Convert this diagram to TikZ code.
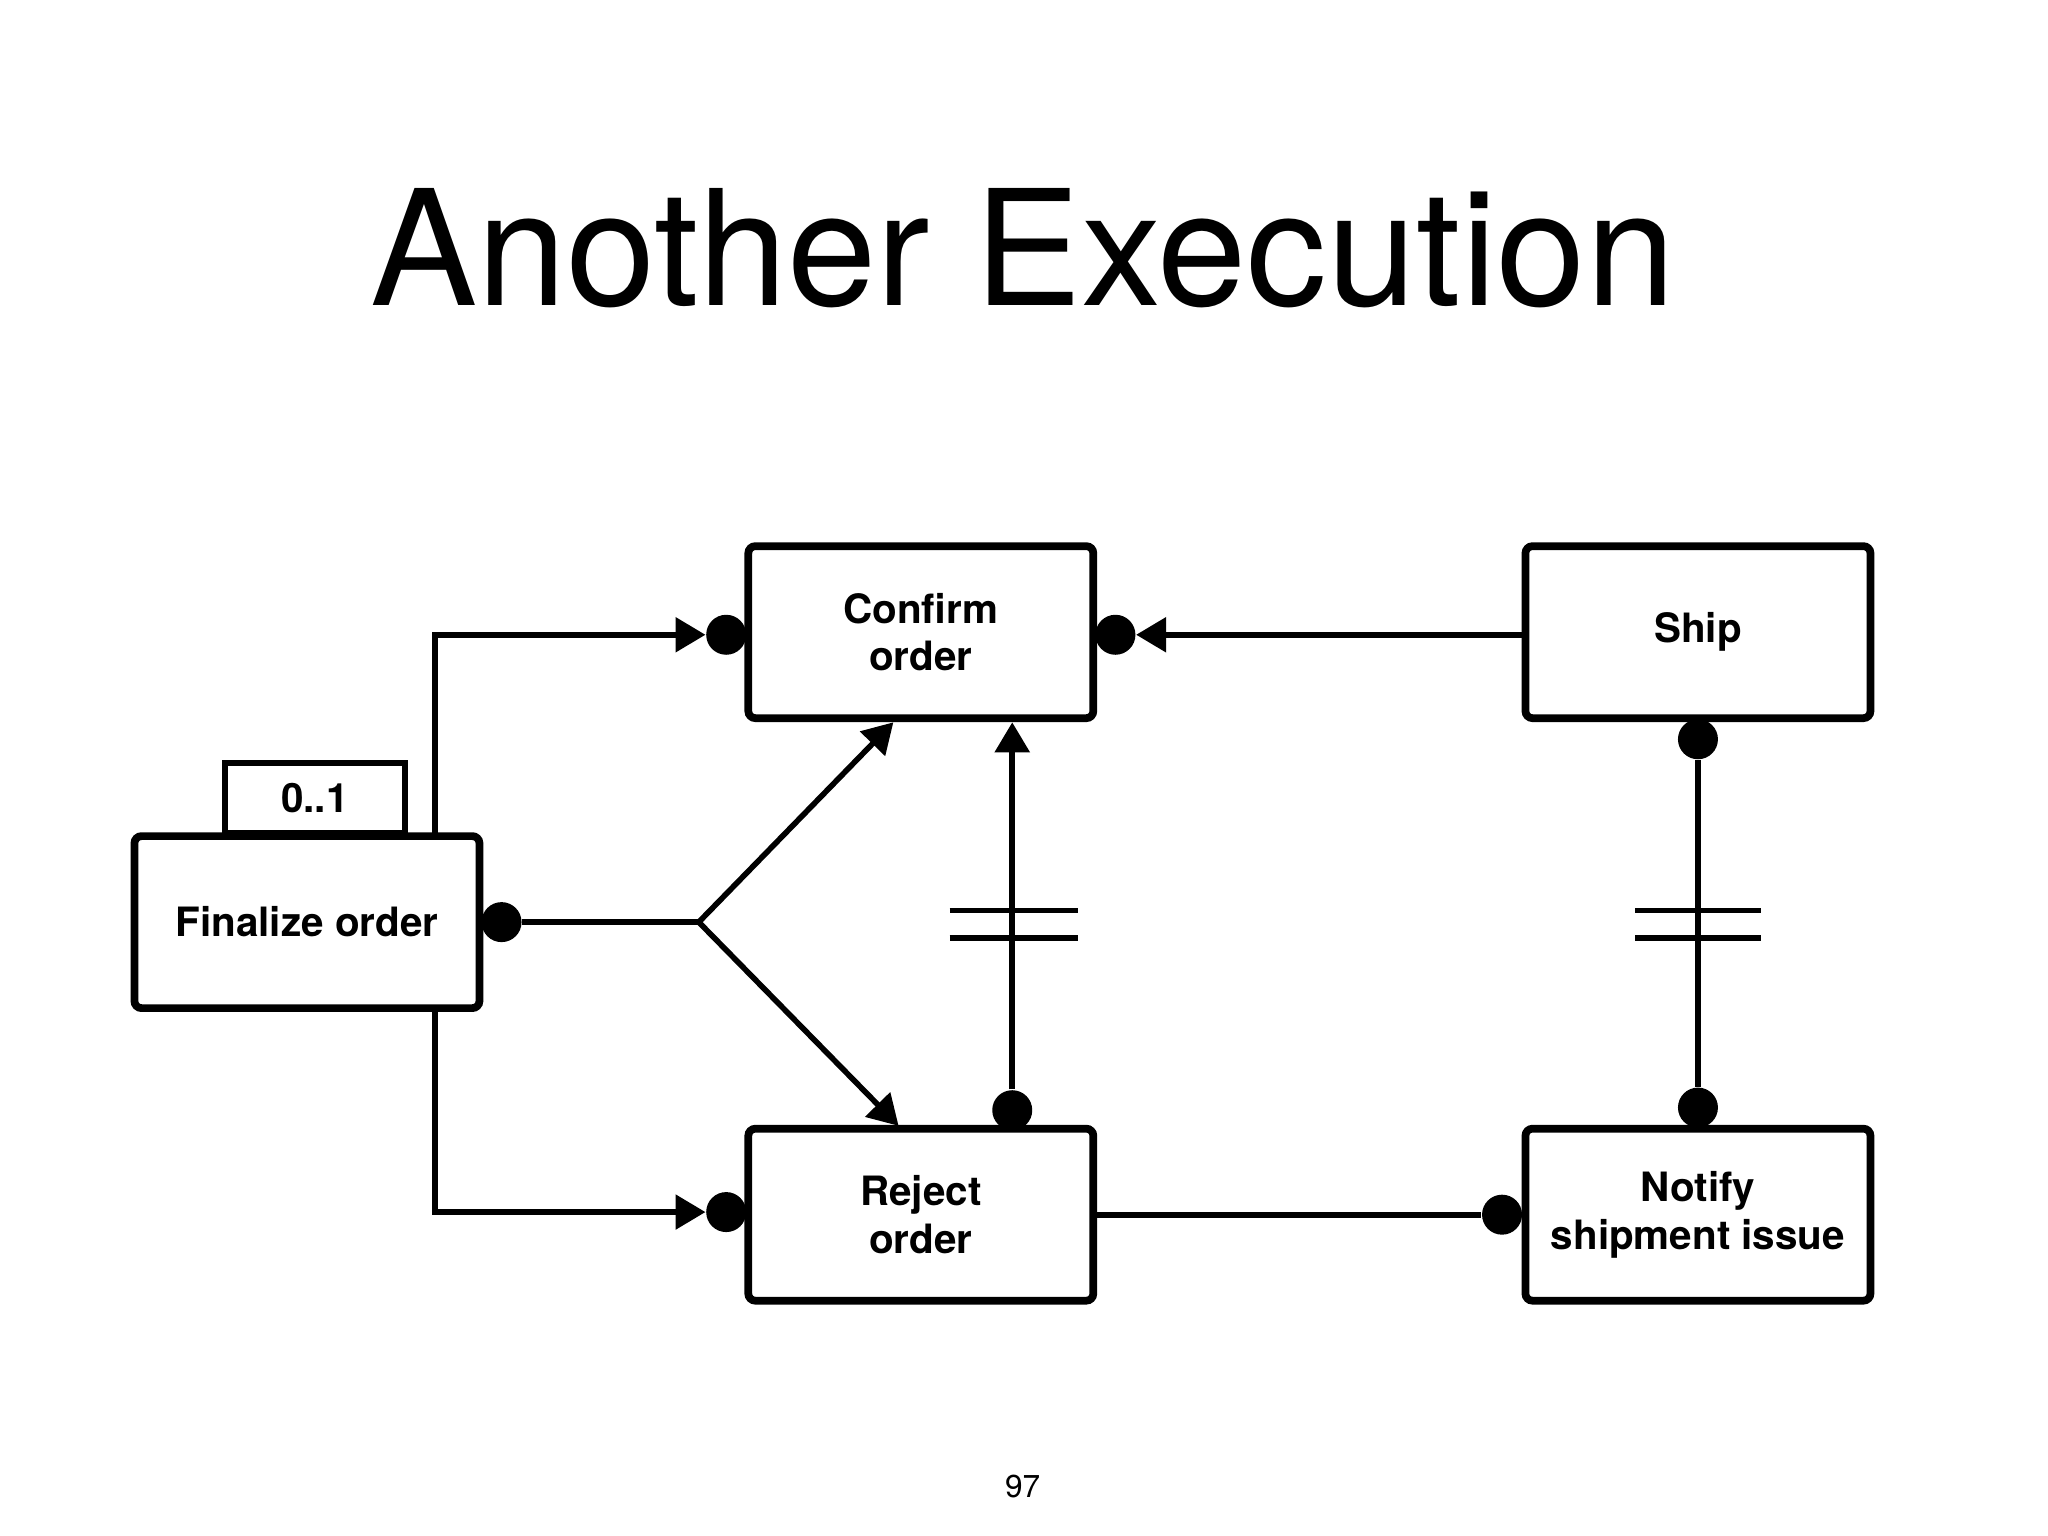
\documentclass[tikz,border=0pt]{standalone}
\usepackage{fontspec}
\setmainfont{TeX Gyre Heros}
\usetikzlibrary{arrows.meta,positioning}
\tikzset{
  act/.style={draw,line width=2.2pt,rounded corners=2pt,minimum width=3.45cm,minimum height=1.72cm,
    align=center,font=\fontsize{11.5}{13.5}\selectfont\bfseries},
  dot/.style={circle,fill,inner sep=0pt,minimum size=0.4cm},
  rel/.style={line width=1.6pt},
  tip/.style={-{Triangle[length=0.3cm,width=0.34cm]}},
  bar/.style={line width=1.6pt}
}
\begin{document}
\begin{tikzpicture}[x=0.01306cm,y=-0.01306cm]
    \useasboundingbox (0,0) rectangle (1568,1176);
    % title and page number
    \node (title) at (783,190) {\fontsize{45.7}{52}\selectfont Another Execution};
    \node (page) at (783,1138) {\fontsize{9}{11}\selectfont 97};

    % activities
    \node[act] (confirm) at (705,484) {Confirm\\order};
    \node[act] (ship) at (1300,484) {Ship};
    \node[act] (finalize) at (235,706) {Finalize order};
    \node[act] (reject) at (705,930) {Reject\\order};
    \node[act] (notify) at (1300,930) {Notify\\shipment issue};
    \node[draw,line width=1.8pt,minimum width=1.8cm,minimum height=0.7cm,anchor=south,
      font=\fontsize{11.5}{13.5}\selectfont\bfseries] (bound) at (241,640) {0..1};

    % dots
    \node[dot] (dcf) at (556,486) {};
    \node[dot] (dcs) at (854,486) {};
    \node[dot] (drf) at (556,928) {};
    \node[dot] (dfin) at (384,706) {};
    \node[dot] (drc) at (775,850) {};
    \node[dot] (dsh) at (1300,566) {};
    \node[dot] (dno) at (1300,848) {};
    \node[dot] (dnr) at (1150,930) {};
    \coordinate (fork) at (535,706);

    % finalize -> confirm / reject
    \draw[rel,tip] (333,640) -- (333,486) -- (dcf.west);
    \draw[rel,tip] (333,772) -- (333,928) -- (drf.west);
    \draw[rel,tip] (ship.west |- 0,486) -- (dcs.east);
    \draw[rel] (dfin) -- (fork);
    \draw[rel,tip] (fork) -- (684,553);
    \draw[rel,tip] (fork) -- (688,862);

    % reject -> confirm
    \draw[rel,tip] (drc) -- (775,553);
    \draw[bar] (727,697) -- (825,697) (727,718) -- (825,718);

    % ship -- notify
    \draw[rel] (dsh) -- (dno);
    \draw[bar] (1252,697) -- (1348,697) (1252,718) -- (1348,718);

    % reject -- notify
    \draw[rel] (reject.east) -- (dnr);
\end{tikzpicture}
\end{document}
